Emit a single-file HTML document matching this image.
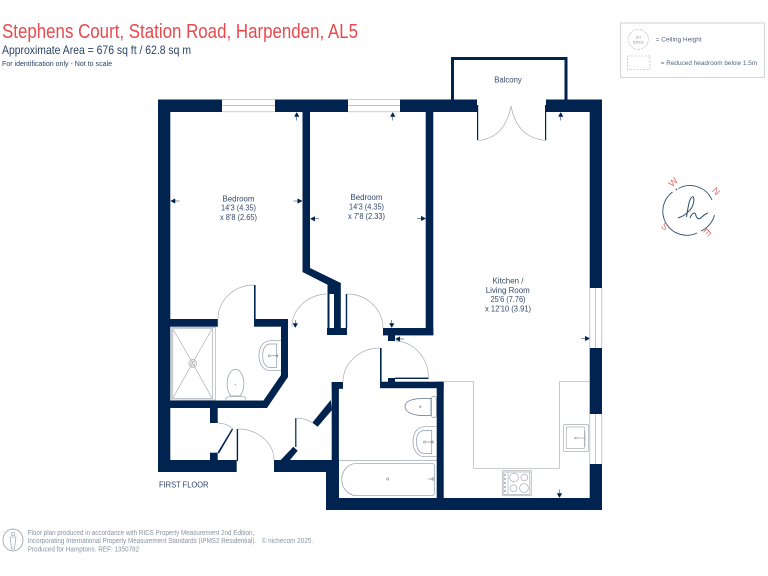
<!DOCTYPE html>
<html><head><meta charset="utf-8"><style>
html,body{margin:0;padding:0;background:#fff;width:768px;height:576px;overflow:hidden}
svg{display:block;filter:blur(.3px)}
text{font-family:"Liberation Sans",sans-serif}
.r{font-size:8px;fill:#33496c;text-anchor:middle}
.g{fill:none;stroke:#a9aeb4;stroke-width:.7}
.t{fill:none;stroke:#8d9aab;stroke-width:.7}
.f{font-size:7px;fill:#8893a3}
</style></head><body>
<svg width="768" height="576" viewBox="0 0 768 576" xmlns="http://www.w3.org/2000/svg">
<rect width="768" height="576" fill="#fff"/>
<text x="2" y="38" font-size="20" fill="#e9484d" textLength="356" lengthAdjust="spacingAndGlyphs">Stephens Court, Station Road, Harpenden, AL5</text>
<text x="2" y="54" font-size="12" fill="#2b4266" textLength="189" lengthAdjust="spacingAndGlyphs">Approximate Area = 676 sq ft / 62.8 sq m</text>
<text x="2" y="66" font-size="7.2" fill="#2b4266" textLength="110" lengthAdjust="spacingAndGlyphs">For identification only - Not to scale</text>

<!-- windows -->
<path class="g" d="M222 99.7H275M222 105.5H275M222 111.8H275M348 99.7H400M348 105.5H400M348 111.8H400"/>
<path class="g" d="M589.8 288V348M595.5 288V348M601.8 288V348M589.8 414V464M595.5 414V464M601.8 414V464"/>

<!-- walls -->
<g fill="#00234f">
<rect x="158" y="99.5" width="64" height="12.5"/>
<rect x="275" y="99.5" width="73" height="12.5"/>
<rect x="400" y="99.5" width="77" height="12.5"/>
<rect x="546" y="99.5" width="56" height="12.5"/>
<rect x="158" y="99.5" width="12.3" height="372.5"/>
<rect x="158" y="460" width="78.7" height="12"/>
<rect x="589.7" y="99.5" width="12.3" height="188.5"/>
<rect x="589.7" y="348" width="12.3" height="66"/>
<rect x="589.7" y="464" width="12.3" height="46"/>
<rect x="326" y="498" width="276" height="12"/>
<rect x="274" y="460" width="65" height="12"/>
<rect x="326" y="460" width="13" height="50"/>
<path d="M302.5 112H310V268L340.8 283V328H347V335H327V328H334V294H328V285L302.5 272Z"/>
<rect x="327.5" y="285" width="2" height="43"/>
<rect x="345.8" y="294" width="1.4" height="34"/>
<rect x="425.7" y="112" width="7.6" height="223"/>
<rect x="383" y="328" width="50.3" height="7.4"/>
<rect x="388" y="335" width="7" height="6"/>
<rect x="380" y="381.7" width="63.7" height="6.5"/>
<rect x="436.7" y="381.7" width="7" height="116.5"/>
<rect x="388" y="378" width="7" height="4"/>
<rect x="395" y="377.6" width="33.5" height="1.4"/>
<rect x="380" y="348" width="1.6" height="34"/>
<rect x="331.7" y="382" width="7.2" height="78"/>
<rect x="331.7" y="382" width="11.3" height="6.8"/>
<rect x="170" y="319" width="47.8" height="7.7"/>
<rect x="254" y="319" width="34" height="7.7"/>
<rect x="254" y="285" width="1.6" height="34"/>
<path d="M281 319H288V377L267 408H170V400.5H263.5L281 375Z"/>
<rect x="210" y="408" width="7.7" height="15"/>
<rect x="210" y="452.7" width="7.7" height="8"/>
<rect x="236.7" y="429" width="1.4" height="32"/>
<path d="M280.7 460L293.3 446.7L297.7 450.7L290 460Z"/>
<rect x="295.2" y="418" width="1.2" height="29"/>
<path d="M312.3 422.7L330.7 400L332 410L317.7 426.7Z"/>
<path d="M217.5 452.5L232 428.5L233 429.5L219 453.5Z"/>
<rect x="451" y="57" width="116.5" height="3"/>
<rect x="451" y="57" width="3" height="43"/>
<rect x="564.5" y="57" width="3" height="43"/>
<rect x="477" y="105" width="1.2" height="35"/>
<rect x="545" y="105" width="1.2" height="35"/>
</g>

<!-- door arcs -->
<g class="g">
<path d="M478 140.5Q505 138 511 106"/>
<path d="M546 140.5Q517 138 511 106"/>
<path d="M254 285A36 34 0 0 0 218 319"/>
<path d="M328 294A36 33 0 0 0 292 327"/>
<path d="M347 294A36 34 0 0 1 383 328"/>
<path d="M395 341A34 37 0 0 1 428.5 378"/>
<path d="M380 348A37 34 0 0 0 343 382"/>
<path d="M238 429A36 31 0 0 1 274 460"/>
<path d="M217.7 423Q226 423 232.7 428.5"/>
<path d="M295.7 418.3Q305 418 313 423"/>
</g>

<!-- shower -->
<g class="g">
<rect x="171.7" y="327.5" width="43.6" height="72.5"/>
<rect x="172.8" y="328.7" width="39.8" height="69.8"/>
<path d="M173 329L192.5 363M212 329L192.5 363M173 398L192.5 363M212 398L192.5 363"/>
<circle cx="192.8" cy="363.4" r="4"/><circle cx="192.8" cy="363.4" r="2.2"/>
<path d="M226 400V397.5L229 396.5H243L245.7 397.5V400"/>
</g>
<path class="t" d="M231 396C226 390 226 379 230 373C233 368 238 368 241 373C245 379 245 390 240 396Z"/>
<circle cx="235.3" cy="384.6" r=".6" fill="#8d9aab"/>
<!-- basin 1 -->
<g class="t">
<path d="M281 340.7H271C263 340.7 259 347 259 355.7C259 364 263 370.7 271 370.7H281"/>
<path d="M276.7 344H270C265 344 262.7 349 262.7 355.7C262.7 362 265 367.5 270 367.5H276.7Z"/>
<circle cx="269.3" cy="355.7" r="1"/><circle cx="277" cy="355.7" r="1"/><path d="M271 355.7H278"/>
</g>
<!-- toilet 2 -->
<g class="t">
<path d="M431 398.5H423C415 398.5 405 400 405 406.5C405 413 415 415.5 423 415.5H431Z" stroke="#5f7390"/>
<rect x="431.5" y="396.5" width="4.8" height="21" rx="2"/>
<circle cx="420.3" cy="406.8" r=".8"/>
<path d="M413 441.5C413 432 418 426.7 425 426.7H436.3M413 441.5C413 451 418 456.7 425 456.7H436.3"/>
<path d="M431.7 430.5H425C419 430.5 416.5 435 416.5 441.5C416.5 449 419 453.5 425 453.5H431.7Z"/>
<circle cx="424.5" cy="442" r="1"/><circle cx="432" cy="442" r="1.2"/><path d="M426 442H434"/>
<!-- bath -->
<path d="M339 460.3H436.7"/>
<path d="M357 463.3H431.5Q434.3 463.3 434.3 466V493Q434.3 495.7 431.5 495.7H357C348 495.7 341.7 488 341.7 479.5C341.7 471 348 463.3 357 463.3Z"/>
<circle cx="387.7" cy="479" r="1.1"/><circle cx="433" cy="479" r="1.2"/><path d="M428 479H434"/>
</g>
<!-- kitchen -->
<path class="g" d="M443.7 381.7H473.3V468.3H559.3V381.7H589.7"/>
<g class="g">
<rect x="502.3" y="470.7" width="29" height="25"/>
<rect x="503.8" y="472" width="26" height="22.5"/>
<path d="M508 472V494"/>
<circle cx="514" cy="477.5" r="4.4"/><circle cx="524.3" cy="477.5" r="3.4"/>
<circle cx="513.5" cy="488.3" r="3.4"/><circle cx="524" cy="488" r="4.4"/>
<circle cx="505" cy="475" r=".8"/><circle cx="505" cy="479" r=".8"/><circle cx="505" cy="483" r=".8"/><circle cx="505" cy="487" r=".8"/><circle cx="505" cy="491" r=".8"/>
<rect x="563.5" y="424.5" width="25" height="27" rx="1.5"/>
<rect x="566.3" y="427" width="18" height="21.5"/>
<path d="M575 438H586M585 431V447"/>
<circle cx="575.5" cy="438" r=".9"/>
</g>

<!-- dimension arrows -->
<g fill="#00234f" stroke="#00234f" stroke-width=".5">
<path d="M296.7 112.5L299 116.5H294.5ZM296.7 116V120.5"/>
<path d="M392.7 112.5L395 116.5H390.5ZM392.7 116V120.5"/>
<path d="M560.7 112.5L563 116.5H558.5ZM560.7 116V120.5"/>
<path d="M170.8 201L175 198.8V203.2ZM175 201H179.5"/>
<path d="M302 201L297.8 198.8V203.2ZM298 201H293.5"/>
<path d="M310.5 218.8L314.7 216.6V221ZM314.7 218.8H319"/>
<path d="M425.5 218.5L421.3 216.3V220.7ZM421.5 218.5H417"/>
<path d="M391.7 327.5L389.5 323.5H394ZM391.7 324V320"/>
<path d="M295.3 327.5L293 323.5H297.6ZM295.3 324V320"/>
<path d="M395.5 339L399.7 336.8V341.2ZM399.7 339H404"/>
<path d="M589.5 338.5L585.3 336.3V340.7ZM585.5 338.5H581"/>
<path d="M559.5 497.5L557.2 493.5H561.8ZM559.5 494V489.5"/>
</g>

<!-- labels -->
<g class="r">
<text x="238.5" y="201.5" textLength="32" lengthAdjust="spacingAndGlyphs">Bedroom</text>
<text x="238.5" y="210.5" textLength="35" lengthAdjust="spacingAndGlyphs">14'3 (4.35)</text>
<text x="238.5" y="220" textLength="37" lengthAdjust="spacingAndGlyphs">x 8'8 (2.65)</text>
<text x="366.5" y="200" textLength="32" lengthAdjust="spacingAndGlyphs">Bedroom</text>
<text x="366.5" y="209.5" textLength="35" lengthAdjust="spacingAndGlyphs">14'3 (4.35)</text>
<text x="366.5" y="219" textLength="37" lengthAdjust="spacingAndGlyphs">x 7'8 (2.33)</text>
<text x="508" y="283.5" textLength="31" lengthAdjust="spacingAndGlyphs">Kitchen /</text>
<text x="507.7" y="292.8" textLength="44" lengthAdjust="spacingAndGlyphs">Living Room</text>
<text x="508" y="302" textLength="35" lengthAdjust="spacingAndGlyphs">25'6 (7.76)</text>
<text x="508" y="311.3" textLength="46" lengthAdjust="spacingAndGlyphs">x 12'10 (3.91)</text>
<text x="508" y="82.5" textLength="27.5" lengthAdjust="spacingAndGlyphs">Balcony</text>
</g>
<text x="159" y="487.5" font-size="8.5" fill="#2b4266" textLength="49.5" lengthAdjust="spacingAndGlyphs">FIRST FLOOR</text>

<!-- legend -->
<rect x="620.5" y="23" width="144" height="54.3" fill="#fff" stroke="#c4c9ce" stroke-width=".8"/>
<circle cx="638.3" cy="39.3" r="10" fill="none" stroke="#a5a9ae" stroke-width=".6" stroke-dasharray="1.5 1.2"/>
<text x="638.3" y="38.5" font-size="3.4" text-anchor="middle" fill="#7b8797">CH</text>
<text x="638.3" y="43.5" font-size="3.4" text-anchor="middle" fill="#7b8797">8'5/2.6</text>
<rect x="627.5" y="56" width="22.5" height="13.5" fill="none" stroke="#a5a9ae" stroke-width=".6" stroke-dasharray="2 1.4"/>
<text x="655.7" y="41.5" font-size="6.5" fill="#56667e" textLength="46" lengthAdjust="spacingAndGlyphs">= Ceiling Height</text>
<text x="660.7" y="65" font-size="6.5" fill="#56667e" textLength="96.5" lengthAdjust="spacingAndGlyphs">= Reduced headroom below 1.5m</text>

<!-- compass -->
<g fill="none" stroke="#2b4b70" stroke-width=".9">
<path d="M678.5 188.5A24 24 0 0 1 712 200"/>
<path d="M714.5 215A24 24 0 0 1 701 231"/>
<path d="M697 233A24 24 0 0 1 672.5 192"/>
<path d="M686.5 217C688 208 689 199 692 197C695 195 694.5 205 690 210C687 213 684.5 216 678 218M690 218C692 213 694.5 212 695.5 214C696.5 218 698 219.5 700 218.5C702 217.5 704 214 708 213" stroke-width="1"/>
</g>
<g font-size="9.5" fill="#e2706f" text-anchor="middle">
<text transform="translate(673 182) rotate(-45) translate(0 3.4)">W</text>
<text transform="translate(716.3 191) rotate(45) translate(0 3.4)">N</text>
<text transform="translate(665 226.7) rotate(-135) translate(0 3.4)">S</text>
<text transform="translate(707.5 232.5) rotate(135) translate(0 3.4)">E</text>
</g>
<circle cx="676.5" cy="189.5" r=".8" fill="#2b4b70"/>
<circle cx="704.5" cy="229.5" r=".8" fill="#e2706f"/>

<!-- footer -->
<ellipse cx="13" cy="540" rx="10" ry="11" fill="none" stroke="#8893a3" stroke-width=".7"/>
<circle cx="13" cy="534" r="1.8" fill="none" stroke="#8893a3" stroke-width=".6"/>
<path d="M10 537H16L15 544L14.5 549H11.5L11 544Z" fill="none" stroke="#8893a3" stroke-width=".6"/>
<text class="f" x="27.7" y="534.8" textLength="226.5" lengthAdjust="spacingAndGlyphs">Floor plan produced in accordance with RICS Property Measurement 2nd Edition,</text>
<text class="f" x="27.7" y="543" textLength="228.5" lengthAdjust="spacingAndGlyphs">Incorporating International Property Measurement Standards (IPMS2 Residential).</text>
<text class="f" x="261.7" y="543" textLength="51.5" lengthAdjust="spacingAndGlyphs">© nichecom 2025.</text>
<text class="f" x="27.7" y="551.5" textLength="111.5" lengthAdjust="spacingAndGlyphs">Produced for Hamptons.  REF: 1350782</text>
</svg>
</body></html>
